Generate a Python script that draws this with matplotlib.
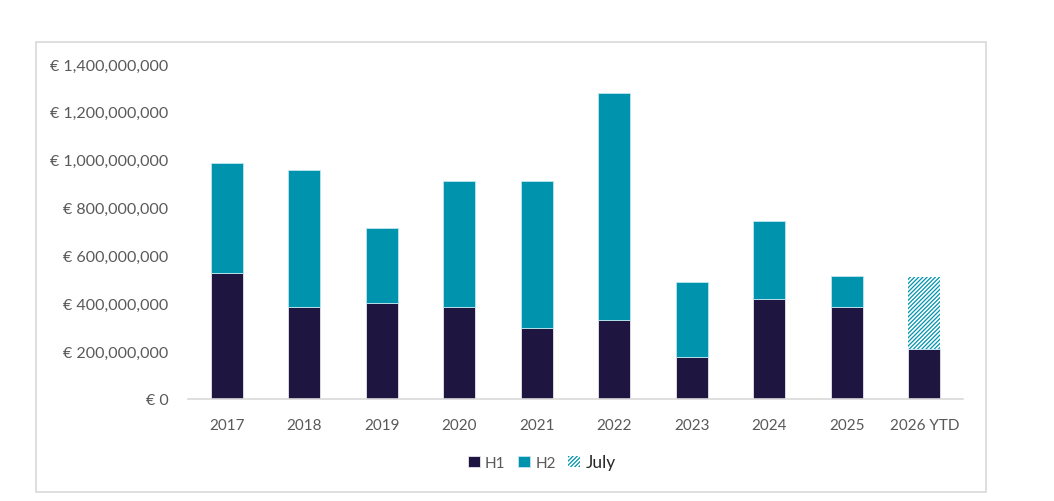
import matplotlib.pyplot as plt
from matplotlib.patches import Rectangle
from matplotlib.ticker import FuncFormatter
import numpy as np

plt.rcParams['font.family'] = ['Lato', 'DejaVu Sans']
plt.rcParams['hatch.linewidth'] = 0.9

# values in EUR
years = ['2017', '2018', '2019', '2020', '2021', '2022', '2023', '2024', '2025', '2026 YTD']
h1 = [526e6, 383e6, 400e6, 383e6, 295e6, 332e6, 177e6, 417e6, 386e6, 209e6]
h2 = [461e6, 572e6, 313e6, 529e6, 617e6, 945e6, 310e6, 326e6, 128e6, 0]
july = [0, 0, 0, 0, 0, 0, 0, 0, 0, 301e6]

navy = '#1E1641'
teal = '#0093AD'
grey = '#595959'

fig = plt.figure(figsize=(10.54, 5.02), dpi=100)
ax = fig.add_axes([0.1784, 0.2032, 0.7353, 0.6673])

# outer light frame
fig.patches.append(Rectangle((36 / 1054, 1 - 493 / 502), 950 / 1054, 450 / 502,
                             transform=fig.transFigure, fill=False,
                             edgecolor='#D9D9D9', linewidth=1.2))

x = np.arange(len(years))
w = 0.415
b1 = ax.bar(x, h1, w, color=navy, edgecolor='#E8E6F0', linewidth=0.6, label='H1')
b2 = ax.bar(x, h2, w, bottom=h1, color=teal, edgecolor='#BFE6EE', linewidth=0.6, label='H2')
bottom_j = np.array(h1) + np.array(h2)
b3 = ax.bar(x, july, w, bottom=bottom_j, color='white', edgecolor=teal,
            linewidth=0, hatch='////////', label='July')

ax.set_xlim(-0.5, len(years) - 0.5)
ax.set_ylim(0, 1.4e9)
ax.set_yticks(np.arange(0, 1.41e9, 2e8))
ax.yaxis.set_major_formatter(FuncFormatter(lambda v, p: '€ 0' if v == 0 else '€ {:,.0f}'.format(v)))
ax.set_xticks(x)
ax.set_xticklabels(years)

for s in ['top', 'right', 'left']:
    ax.spines[s].set_visible(False)
ax.spines['bottom'].set_color('#D9D9D9')
ax.spines['bottom'].set_linewidth(1.2)
ax.tick_params(axis='y', length=0, labelsize=11.5, colors=grey, pad=14)
ax.tick_params(axis='x', length=0, labelsize=11, colors=grey, pad=14)

leg = fig.legend(handles=[b1, b2, b3], loc='center', bbox_to_anchor=(0.514, 0.078),
                 ncol=3, frameon=False, fontsize=11, handlelength=0.8, handleheight=0.8,
                 handletextpad=0.35, columnspacing=0.8)
for t in leg.get_texts():
    t.set_color(grey)
leg.get_texts()[2].set_color('#262626')
leg.get_texts()[2].set_fontsize(12.5)

fig.savefig('out.png', dpi=100)
